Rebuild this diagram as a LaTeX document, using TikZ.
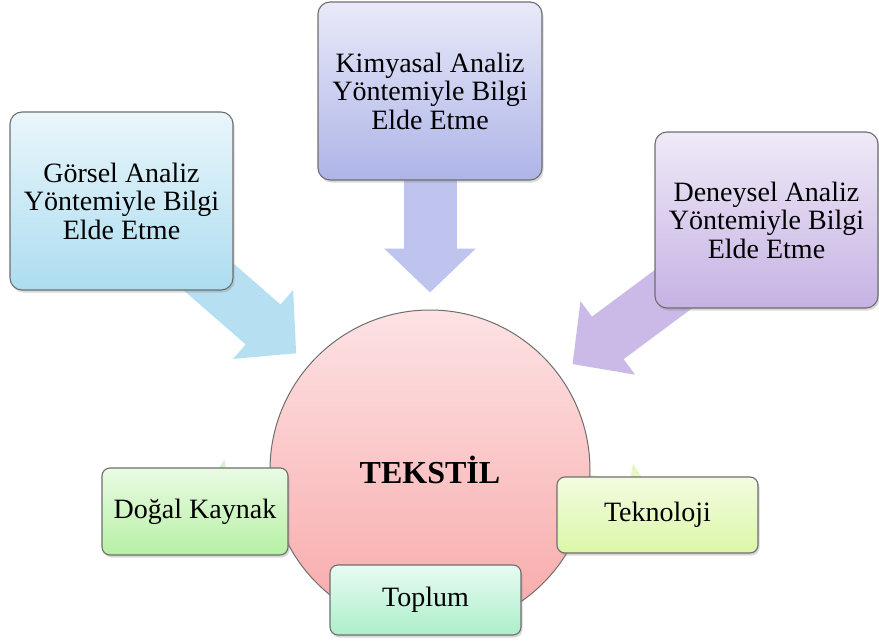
\documentclass[tikz,border=0pt]{standalone}
\usepackage{fontspec}
\setmainfont{Liberation Serif}
\usepackage{tikz}
\usetikzlibrary{shapes,arrows.meta,shadows,backgrounds}

\definecolor{kenar}{HTML}{6E6E6E}
\definecolor{gorselA}{HTML}{EAF6FB}
\definecolor{gorselB}{HTML}{ACDDF0}
\definecolor{gorselOk}{HTML}{B6E0F1}
\definecolor{kimyaA}{HTML}{E8EAF8}
\definecolor{kimyaB}{HTML}{AEB4E8}
\definecolor{kimyaOk}{HTML}{BEC4EE}
\definecolor{deneyA}{HTML}{EFE9F7}
\definecolor{deneyB}{HTML}{C6B2E4}
\definecolor{deneyOk}{HTML}{CBBAE8}
\definecolor{tekstilA}{HTML}{FDE2E4}
\definecolor{tekstilB}{HTML}{F8A8A8}
\definecolor{dogalA}{HTML}{EAFBE4}
\definecolor{dogalB}{HTML}{B6F0A4}
\definecolor{dogalOk}{HTML}{D6F4CC}
\definecolor{teknoA}{HTML}{F2FCE0}
\definecolor{teknoB}{HTML}{DCF7A8}
\definecolor{teknoOk}{HTML}{E6F6C8}
\definecolor{toplumA}{HTML}{E8FBF2}
\definecolor{toplumB}{HTML}{ACEFCB}

\begin{document}
\begin{tikzpicture}[x=1pt,y=-1pt,
  kutu/.style={draw=kenar, line width=1.1pt, rounded corners=12pt, align=center, inner sep=2pt,
    font=\fontsize{28}{28.5}\selectfont,
    drop shadow={opacity=0.3, shadow xshift=1.5pt, shadow yshift=-2.5pt}},
  kucuk/.style={kutu, rounded corners=8pt},
  blokok/.style={line width=53pt, shorten >=17pt, -{Triangle[length=44pt 0 1, width=89pt 0 1]}}]
\useasboundingbox (0,0) rectangle (879,643);

\node[circle, draw=kenar, line width=1pt, minimum size=320pt, inner sep=0pt,
  top color=tekstilA, bottom color=tekstilB, font=\fontsize{32}{36}\selectfont\bfseries] (Tekstil) at (430,470) {TEKSTİL};

\node[kutu, minimum width=223pt, minimum height=178pt, top color=gorselA, bottom color=gorselB] (Gorsel) at (121.5,201) {Görsel Analiz\\Yöntemiyle Bilgi\\Elde Etme};
\node[kutu, minimum width=224pt, minimum height=178pt, top color=kimyaA, bottom color=kimyaB] (Kimyasal) at (430,91) {Kimyasal Analiz\\Yöntemiyle Bilgi\\Elde Etme};
\node[kutu, minimum width=223pt, minimum height=176pt, top color=deneyA, bottom color=deneyB] (Deneysel) at (766.5,220) {Deneysel Analiz\\Yöntemiyle Bilgi\\Elde Etme};

\node[kucuk, minimum width=186pt, minimum height=87pt, top color=dogalA, bottom color=dogalB] (Dogal) at (195,511.5) {Doğal Kaynak};
\node[kucuk, minimum width=201pt, minimum height=76pt, top color=teknoA, bottom color=teknoB] (Teknoloji) at (657.5,515) {Teknoloji};
\node[kucuk, minimum width=191pt, minimum height=70pt, top color=toplumA, bottom color=toplumB] (Toplum) at (425.5,600) {Toplum};

\begin{scope}[on background layer]
\draw[blokok, gorselOk] (Gorsel.center) -- (Tekstil);
\draw[blokok, kimyaOk] (Kimyasal.center) -- (Tekstil);
\draw[blokok, deneyOk] (Deneysel.center) -- (Tekstil);
\draw[blokok, dogalOk, shorten >=-6pt] (Tekstil.center) -- (Dogal.center);
\draw[blokok, teknoOk, shorten >=-10pt] (Tekstil.center) -- (Teknoloji.center);
\end{scope}
\end{tikzpicture}
\end{document}
